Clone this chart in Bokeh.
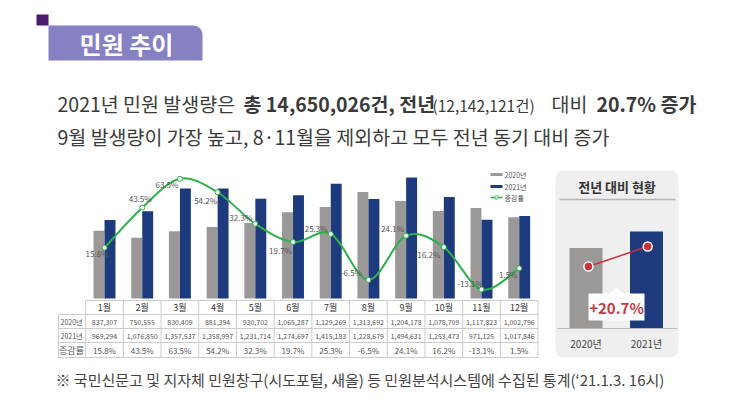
import numpy as np
from bokeh.plotting import figure
from bokeh.models import Range1d, BoxAnnotation
from bokeh.core.properties import value
from bokeh.embed import file_html
from bokeh.resources import INLINE

# ---------------- data ----------------
months = ["1월", "2월", "3월", "4월", "5월", "6월", "7월", "8월", "9월", "10월", "11월", "12월"]
v2020 = [837307, 750555, 830409, 881394, 930702, 1065287, 1129269, 1313692, 1204178, 1078709, 1117823, 1002796]
v2021 = [969294, 1076850, 1357537, 1358997, 1231714, 1274697, 1415183, 1228679, 1494631, 1253473, 971125, 1017846]
rate = [15.8, 43.5, 63.5, 54.2, 32.3, 19.7, 25.3, -6.5, 24.1, 16.2, -13.1, 1.5]
years = ["2020년", "2021년"]
series_names = ["2020년", "2021년", "증감률"]
row_labels = ["2020년", "2021년", "증감률"]

total_2020 = sum(v2020)
total_2021 = sum(v2021)
growth = (total_2021 / total_2020 - 1) * 100

# ---------------- styles ----------------
FONT = value("Noto Sans CJK KR")
GRAY = "#9b9898"
BLUE = "#1c3a7c"
GREEN = "#2bb04a"
RED = "#c8323c"
TXT = "#3a3a3a"
GRID = "#cccccc"

# canvas in photo-pixel coordinates
W, H = 714, 393
X_LO, X_HI, Y_TOP, Y_BOT = 0, W, 0, H

p = figure(width=W, height=H, x_range=Range1d(X_LO, X_HI), y_range=Range1d(Y_BOT, Y_TOP),
           output_backend="svg", toolbar_location=None, min_border=0)
p.axis.visible = False
p.grid.visible = False
p.outline_line_color = None
p.background_fill_color = "white"

# ---- scales for the main chart ----
X1, DX = 104.0, 37.7          # pixel centre of month 1 and month spacing
BASE_Y, PPM = 298.0, 81.0     # value baseline and px per million
ZERO_Y, PPP = 270.0, 1.444    # 0% position and px per percent
def m_of(px): return 1 + (px - X1) / DX
def v_of(py): return (BASE_Y - py) / PPM * 1e6
def pct_of(py): return (ZERO_Y - py) / PPP
p.extra_x_ranges = {"m": Range1d(m_of(X_LO), m_of(X_HI))}
p.extra_y_ranges = {"v": Range1d(v_of(Y_BOT), v_of(Y_TOP)),
                    "pct": Range1d(pct_of(Y_BOT), pct_of(Y_TOP))}

# ---- scales for side panel ----
SX0, SDX = 585.5, 60.5
SBASE, SPPM = 328.0, 6.62
def yr_of(px): return (px - SX0) / SDX
def tot_of(py): return (SBASE - py) / SPPM * 1e6
D0, D1 = 266.0, 246.0
def dot_of(py): return total_2020 + (D0 - py) * (total_2021 - total_2020) / (D0 - D1)
p.extra_x_ranges["yr"] = Range1d(yr_of(X_LO), yr_of(X_HI))
p.extra_y_ranges["tot"] = Range1d(tot_of(Y_BOT), tot_of(Y_TOP))
p.extra_y_ranges["dot"] = Range1d(dot_of(Y_BOT), dot_of(Y_TOP))

# ---------------- title tab ----------------
p.add_layout(BoxAnnotation(left=48, right=202, top=25, bottom=60, fill_color="#8581c3",
                           fill_alpha=1, line_color=None, border_radius=(0, 9, 0, 0), level="underlay"))
p.add_layout(BoxAnnotation(left=36, right=48, top=14, bottom=25, fill_color="#4a1b6d",
                           fill_alpha=1, line_color=None, level="underlay"))
p.text(x=[126], y=[43], text=["민원 추이"], text_font=FONT, text_font_size=value("24px"),
       text_font_style="bold", text_color="white", text_align="center", text_baseline="middle")

# ---------------- headline ----------------
def put(x, y, s, size="19.5px", bold=False, color=TXT):
    p.text(x=[x], y=[y], text=[s], text_font=FONT, text_font_size=value(size),
           text_font_style="bold" if bold else "normal", text_color=color,
           text_align="left", text_baseline="middle")

put(57, 103, f"{years[1]} 민원 발생량은")
put(243, 103, f"총 {total_2021:,}건, 전년", bold=True)
put(432, 104, f"({total_2020:,}건)", size="15.5px")
put(551, 103, "대비")
put(596, 103, f"{growth:.1f}% 증가", bold=True)
put(57, 136, "9월 발생량이 가장 높고, 8·11월을 제외하고 모두 전년 동기 대비 증가", size="19.5px")

# ---------------- bars ----------------
idx = list(range(1, 13))
p.vbar(x=[i - 0.146 for i in idx], top=v2020, bottom=0, width=0.29, fill_color=GRAY,
       line_color=None, x_range_name="m", y_range_name="v")
p.vbar(x=[i + 0.146 for i in idx], top=v2021, bottom=0, width=0.29, fill_color=BLUE,
       line_color=None, x_range_name="m", y_range_name="v")

# ---------------- smoothed rate line ----------------
P = list(zip(idx, rate))
bz = {k: [] for k in ["x0", "y0", "x1", "y1", "cx0", "cy0", "cx1", "cy1"]}
for i in range(len(P) - 1):
    p0 = P[i - 1] if i > 0 else P[i]
    p1, p2 = P[i], P[i + 1]
    p3 = P[i + 2] if i + 2 < len(P) else P[i + 1]
    bz["x0"].append(p1[0]); bz["y0"].append(p1[1])
    bz["x1"].append(p2[0]); bz["y1"].append(p2[1])
    bz["cx0"].append(p1[0] + (p2[0] - p0[0]) / 6); bz["cy0"].append(p1[1] + (p2[1] - p0[1]) / 6)
    bz["cx1"].append(p2[0] - (p3[0] - p1[0]) / 6); bz["cy1"].append(p2[1] - (p3[1] - p1[1]) / 6)
p.bezier(source=bz, x0="x0", y0="y0", x1="x1", y1="y1", cx0="cx0", cy0="cy0", cx1="cx1", cy1="cy1",
         line_color=GREEN, line_width=2, x_range_name="m", y_range_name="pct")
p.scatter(x=idx, y=rate, size=5, fill_color="white", line_color=GREEN, line_width=1,
          x_range_name="m", y_range_name="pct")

lab_dx = [-7.5, -2, -13, -12, -14.5, -12.5, -14.5, -17, -13.5, -15, -11.5, -11]
lab_dy = [6, -9, 6, 8, -6, 8, -5, -7, -7, 7, -6, 6]
p.text(x=idx, y=rate, text=[f"{r:.1f}%" for r in rate], x_offset=lab_dx, y_offset=lab_dy,
       text_font=FONT, text_font_size=value("8px"), text_color="#555555",
       text_align="center", text_baseline="middle", x_range_name="m", y_range_name="pct")

# ---------------- legend ----------------
p.quad(left=[490, 490], right=[502, 502], top=[172.5, 184.5], bottom=[175.5, 187.5],
       fill_color=[GRAY, BLUE], line_color=None)
p.segment(x0=[490], y0=[197], x1=[502], y1=[197], line_color=GREEN, line_width=1.5)
p.scatter(x=[496], y=[197], size=3.5, fill_color="white", line_color=GREEN, line_width=1)
p.text(x=[504, 504, 504], y=[174, 186, 197], text=series_names, text_font=FONT,
       text_font_size=value("7px"), text_color="#555555", text_align="left", text_baseline="middle")

# ---------------- data table ----------------
xb = [X1 + (k - 0.5) * DX for k in range(13)]
TL = 58
rows_y = [300, 314, 328, 342, 357]
p.segment(x0=[xb[0]] + [TL] * 4, y0=rows_y, x1=[xb[-1]] * 5, y1=rows_y, line_color=GRID, line_width=1)
p.segment(x0=xb + [TL], y0=[300] * 13 + [314], x1=xb + [TL], y1=[357] * 14, line_color=GRID, line_width=1)

p.text(x=idx, y=[307] * 12, text=months, text_font=FONT, text_font_size=value("9px"),
       text_color="#333333", text_align="center", text_baseline="middle", x_range_name="m")
p.text(x=idx, y=[321] * 12, text=[f"{v:,}" for v in v2020], text_font=FONT, text_font_size=value("7px"),
       text_color="#555555", text_align="center", text_baseline="middle", x_range_name="m")
p.text(x=idx, y=[335] * 12, text=[f"{v:,}" for v in v2021], text_font=FONT, text_font_size=value("7px"),
       text_color="#555555", text_align="center", text_baseline="middle", x_range_name="m")
p.text(x=idx, y=[349.5] * 12, text=[f"{r:.1f}%" for r in rate], text_font=FONT, text_font_size=value("8px"),
       text_color="#555555", text_align="center", text_baseline="middle", x_range_name="m")
p.text(x=[71, 71, 71], y=[321, 335, 349.5], text=row_labels, text_font=FONT,
       text_font_size=["7px", "7px", "9px"], text_color="#555555", text_align="center", text_baseline="middle")

# ---------------- side panel ----------------
p.add_layout(BoxAnnotation(left=555, right=678, top=170, bottom=357, fill_color="#efefef",
                           fill_alpha=1, line_color=None, border_radius=8, level="underlay"))
p.text(x=[616.5], y=[186], text=["전년 대비 현황"], text_font=FONT, text_font_size=value("13px"),
       text_font_style="bold", text_color="#333333", text_align="center", text_baseline="middle")
p.segment(x0=[559], y0=[199], x1=[675], y1=[199], line_color="#b5b5b5", line_width=1.5)
p.vbar(x=[0, 1], top=[total_2020, total_2021], bottom=0, width=0.545, fill_color=[GRAY, BLUE],
       line_color=None, x_range_name="yr", y_range_name="tot")
p.segment(x0=[557], y0=[328], x1=[677], y1=[328], line_color="#bdbdbd", line_width=1)
p.text(x=[0, 1], y=[343, 343], text=years, text_font=FONT, text_font_size=value("10px"),
       text_color="#444444", text_align="center", text_baseline="middle", x_range_name="yr")
p.line(x=[0.04, 1.02], y=[total_2020, total_2021], line_color=RED, line_width=1.5,
       x_range_name="yr", y_range_name="dot")
p.scatter(x=[0.04, 1.02], y=[total_2020, total_2021], size=9, fill_color=RED, line_color="white",
          line_width=1.5, x_range_name="yr", y_range_name="dot")
# callout
p.quad(left=[588], right=[644], top=[293], bottom=[320], fill_color="white", line_color=None)
p.patch(x=[609, 616, 623], y=[293.5, 287, 293.5], fill_color="white", line_color=None)
p.text(x=[616], y=[306.5], text=[f"+{growth:.1f}%"], text_font=FONT, text_font_size=value("15px"),
       text_font_style="bold", text_color="#c33a47", text_align="center", text_baseline="middle")

# ---------------- footnote ----------------
put(55, 379, "※ 국민신문고 및 지자체 민원창구(시도포털, 새올) 등 민원분석시스템에 수집된 통계(‘21.1.3. 16시)",
    size="15px", color="#444444")

open("out.html", "w").write(file_html(p, INLINE))
